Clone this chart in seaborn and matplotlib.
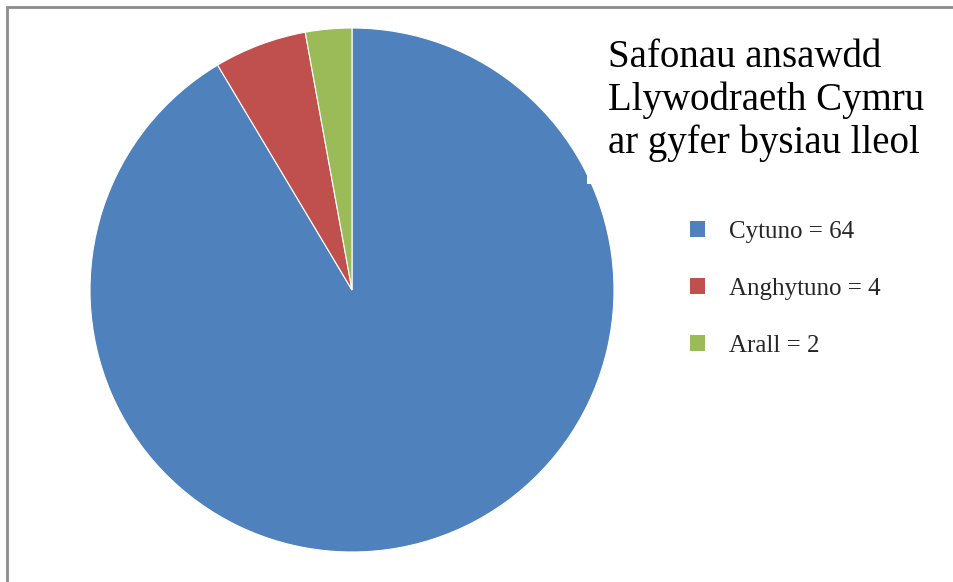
import matplotlib
matplotlib.use("Agg")
import matplotlib.pyplot as plt
import seaborn as sns
from matplotlib.patches import Patch, Rectangle

# -----------------------------
# Data
# -----------------------------
categories = ["Cytuno", "Anghytuno", "Arall"]
counts = [64, 4, 2]
title = "Safonau ansawdd\nLlywodraeth Cymru\nar gyfer bysiau lleol"

sns.set_theme(style="white")
plt.rcParams["font.family"] = ["Liberation Serif", "DejaVu Serif"]

colors = ["#4F81BD", "#C0504D", "#9BBB59"]

W, H = 954, 582
fig = plt.figure(figsize=(W / 100, H / 100), dpi=100)

# frame around the chart area (only left/top visible)
fig.patches.append(Rectangle((7 / W, -0.1), 1.2, (H - 7) / H + 0.1,
                             transform=fig.transFigure, fill=False,
                             edgecolor="#8c8c8c", linewidth=2))

# -----------------------------
# Pie
# -----------------------------
cx, cy, r = 352, H - 290, 262
ax = fig.add_axes([(cx - r) / W, (cy - r) / H, 2 * r / W, 2 * r / H])
ax.pie(counts, colors=colors, startangle=90, counterclock=False, radius=1,
       wedgeprops=dict(edgecolor="white", linewidth=0.8))
ax.set_xlim(-1, 1)
ax.set_ylim(-1, 1)
ax.set_aspect("equal")
ax.axis("off")

# -----------------------------
# Title (white box over pie edge)
# -----------------------------
fig.text(608 / W, 1 - 39 / H, title, ha="left", va="top", fontsize=28,
         linespacing=1.2, color="black",
         bbox=dict(facecolor="white", edgecolor="none",
                   boxstyle="square,pad=0.55"), zorder=5)

# -----------------------------
# Legend
# -----------------------------
handles = [Patch(facecolor=c, edgecolor="none") for c in colors]
labels = [f"{c} = {v}" for c, v in zip(categories, counts)]
fig.legend(handles, labels, loc="upper left",
           bbox_to_anchor=(690 / W, 1 - 221 / H), frameon=False,
           fontsize=18, handlelength=0.6, handleheight=0.6,
           handletextpad=0.95, labelspacing=1.4, borderaxespad=0,
           borderpad=0)

fig.savefig("out.png", dpi=100)
